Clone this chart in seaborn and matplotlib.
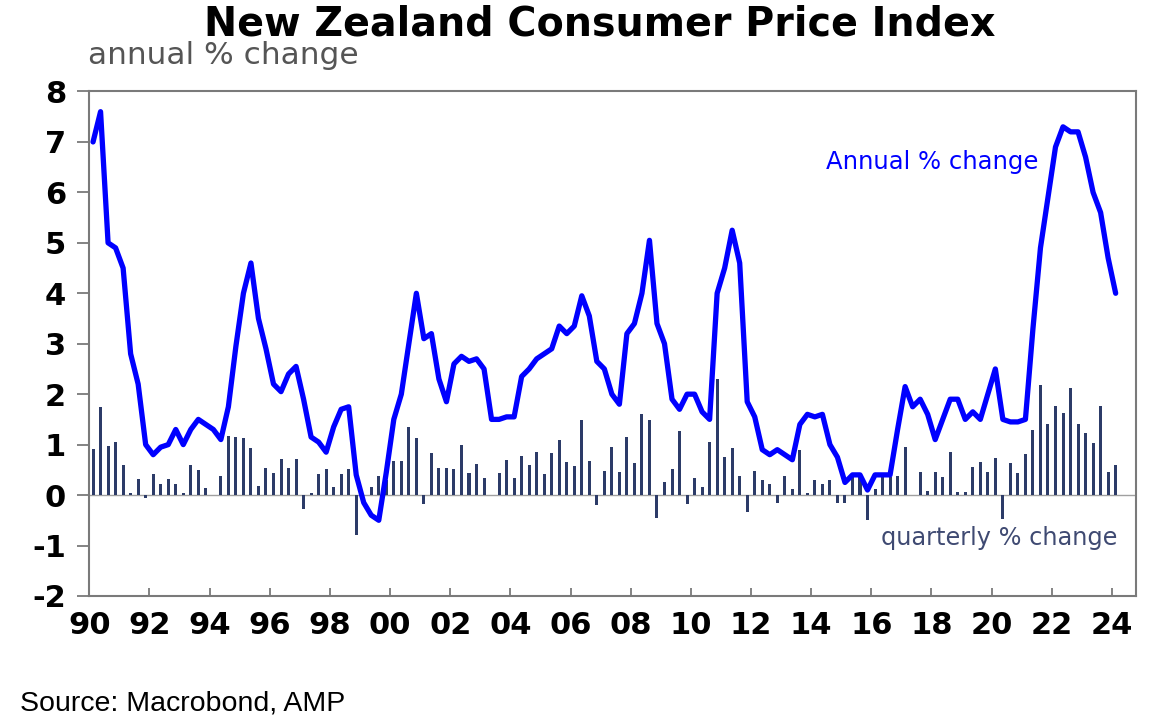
import numpy as np
import pandas as pd
import matplotlib
matplotlib.use("Agg")
import matplotlib.pyplot as plt
import seaborn as sns

# quarterly data, 1990 Q1 .. 2024 Q1
start_year = 1990
annual_change = [
    7.0, 7.6, 5.0, 4.9, 4.5, 2.8, 2.2, 1.0, 0.8, 0.95,
    1.0, 1.3, 1.0, 1.3, 1.5, 1.4, 1.3, 1.1, 1.75, 2.95,
    4.0, 4.6, 3.5, 2.9, 2.2, 2.05, 2.4, 2.55, 1.9, 1.15,
    1.05, 0.85, 1.35, 1.7, 1.75, 0.4, -0.15, -0.4, -0.5, 0.45,
    1.5, 2.0, 3.0, 4.0, 3.1, 3.2, 2.3, 1.85, 2.6, 2.75,
    2.65, 2.7, 2.5, 1.5, 1.5, 1.55, 1.55, 2.35, 2.5, 2.7,
    2.8, 2.9, 3.35, 3.2, 3.35, 3.95, 3.55, 2.65, 2.5, 2.0,
    1.8, 3.2, 3.4, 4.0, 5.05, 3.4, 3.0, 1.9, 1.7, 2.0,
    2.0, 1.65, 1.5, 4.0, 4.5, 5.25, 4.6, 1.85, 1.55, 0.9,
    0.8, 0.9, 0.8, 0.7, 1.4, 1.6, 1.55, 1.6, 1.0, 0.75,
    0.25, 0.4, 0.4, 0.1, 0.4, 0.4, 0.4, 1.3, 2.15, 1.75,
    1.9, 1.6, 1.1, 1.5, 1.9, 1.9, 1.5, 1.65, 1.5, 2.0,
    2.5, 1.5, 1.45, 1.45, 1.5, 3.3, 4.9, 5.9, 6.9, 7.3,
    7.2, 7.2, 6.7, 6.0, 5.6, 4.7, 4.0,
]
quarterly_change = [
    0.92, 1.74, 0.97, 1.05, 0.59, 0.05, 0.32, -0.05, 0.42, 0.22,
    0.32, 0.22, 0.04, 0.59, 0.5, 0.14, 0.0, 0.37, 1.17, 1.15,
    1.14, 0.93, 0.17, 0.53, 0.44, 0.72, 0.53, 0.72, -0.27, 0.05,
    0.42, 0.52, 0.15, 0.42, 0.52, -0.79, 0.0, 0.15, 0.37, 0.3,
    0.67, 0.67, 1.35, 1.13, -0.17, 0.84, 0.53, 0.53, 0.51, 0.99,
    0.43, 0.61, 0.33, 0.01, 0.43, 0.69, 0.33, 0.78, 0.59, 0.85,
    0.41, 0.84, 1.09, 0.65, 0.57, 1.49, 0.67, -0.19, 0.47, 0.96,
    0.46, 1.15, 0.64, 1.6, 1.48, -0.45, 0.25, 0.51, 1.26, -0.17,
    0.33, 0.15, 1.06, 2.3, 0.76, 0.93, 0.38, -0.34, 0.48, 0.3,
    0.21, -0.15, 0.38, 0.13, 0.89, 0.05, 0.29, 0.21, 0.29, -0.15,
    -0.15, 0.36, 0.35, -0.49, 0.13, 0.35, 0.36, 0.38, 0.95, 0.0,
    0.46, 0.08, 0.46, 0.36, 0.85, 0.07, 0.07, 0.55, 0.65, 0.45,
    0.73, -0.47, 0.63, 0.43, 0.81, 1.28, 2.19, 1.41, 1.76, 1.63,
    2.13, 1.4, 1.23, 1.03, 1.76, 0.45, 0.59,
]
tick_years = list(range(1990, 2025, 2))
tick_labels = [f"{y % 100:02d}" for y in tick_years]

# mid-quarter positions in decimal years
dates = start_year + 0.125 + 0.25 * np.arange(len(annual_change))
df = pd.DataFrame({"date": dates, "annual": annual_change, "quarterly": quarterly_change})

sns.set_style("white")
plt.rcParams["font.family"] = ["DejaVu Sans"]
plt.rcParams["axes.unicode_minus"] = False

fig = plt.figure(figsize=(11.67, 7.25), dpi=100)
ax = fig.add_axes([0.0765, 0.178, 0.8969, 0.6958])

line_blue = "#0000FF"
bar_navy = "#2C3B68"

ax.axhline(0, color="#A0A0A0", lw=1.0, zorder=1)
sns.barplot(data=df, x="date", y="quarterly", native_scale=True, width=0.4,
            color=bar_navy, saturation=1, errorbar=None, linewidth=0,
            ax=ax, zorder=2)
sns.lineplot(data=df, x="date", y="annual", color=line_blue, lw=3.8, ax=ax, zorder=3)

ax.set_xlim(1990, 2024.8)
ax.set_ylim(-2, 8)
ax.set_xticks(tick_years)
ax.set_xticklabels(tick_labels)
ax.set_yticks(range(-2, 9))
ax.set_xlabel("")
ax.set_ylabel("")

for s in ax.spines.values():
    s.set_visible(True)
    s.set_color("#7A7A7A")
    s.set_linewidth(1.5)

ax.tick_params(axis="x", direction="in", length=5.5, width=1.3, color="#7A7A7A",
               pad=11, labelsize=22, labelcolor="black", bottom=True)
ax.tick_params(axis="y", direction="out", length=8.6, width=1.3, color="#7A7A7A",
               pad=8, labelsize=22, labelcolor="black", left=True)
for lab in ax.get_xticklabels() + ax.get_yticklabels():
    lab.set_fontweight("bold")

ax.text(2014.5, 6.6, "Annual % change", color=line_blue, fontsize=17.5, va="center", ha="left")
ax.text(2016.33, -0.85, "quarterly % change", color="#3F4A72", fontsize=17.3, va="center", ha="left")

fig.text(600 / 1167, 1 - 35 / 725, "New Zealand Consumer Price Index", ha="center",
         va="baseline", fontsize=28.5, fontweight="heavy", color="black")
fig.text(88 / 1167, 1 - 64 / 725, "annual % change", ha="left", va="baseline",
         fontsize=22.5, color="#555555")
fig.text(20 / 1167, 1 - 710 / 725, "Source: Macrobond, AMP", ha="left", va="baseline",
         fontsize=20.5, color="black", family=["Liberation Sans", "DejaVu Sans"])

fig.savefig("out.png", dpi=100, facecolor="white")
